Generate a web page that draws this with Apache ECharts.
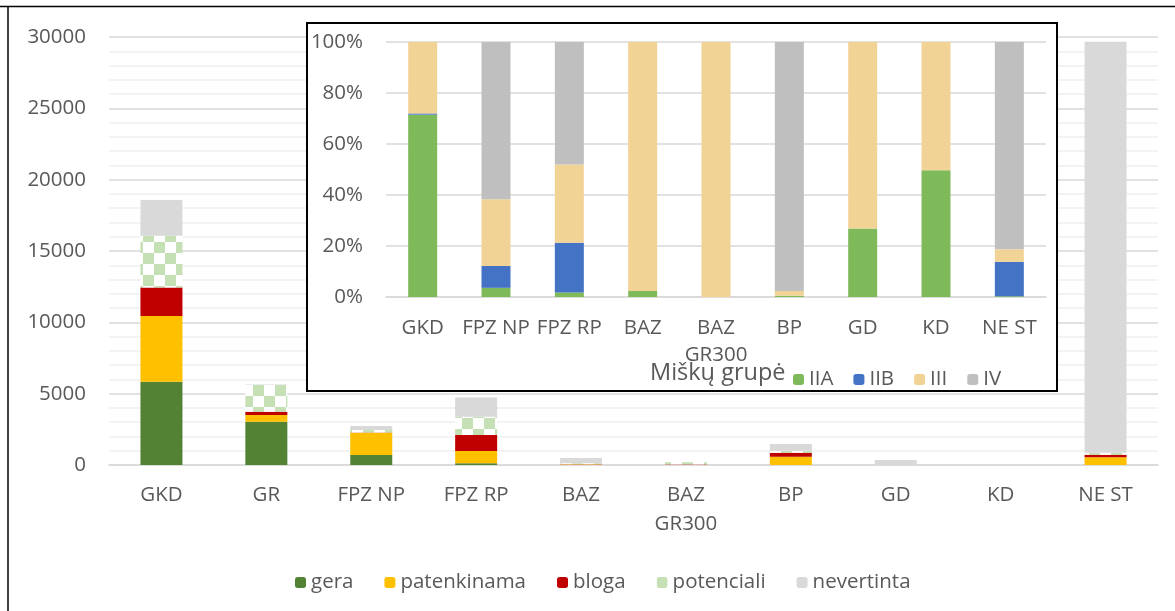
<!DOCTYPE html>
<html>
<head>
<meta charset="utf-8">
<script src="https://cdn.jsdelivr.net/npm/echarts@6/dist/echarts.min.js"></script>
<style>
  html, body { margin: 0; padding: 0; background: #fff; }
  #chart { width: 1175px; height: 611px; }
</style>
</head>
<body>
<div id="chart"></div>
<script>
// main chart (absolute areas)
const categories = ['GKD', 'GR', 'FPZ NP', 'FPZ RP', 'BAZ', 'BAZ\nGR300', 'BP', 'GD', 'KD', 'NE ST']
const gera = [5840, 3030, 700, 120, 0, 0, 0, 0, 0, 0]
const patenkinama = [4600, 470, 1560, 860, 40, 0, 580, 0, 0, 540]
const bloga = [2010, 240, 10, 1120, 20, 40, 280, 0, 0, 180]
const potenciali = [3620, 1870, 190, 1290, 60, 150, 140, 0, 0, 140]
const nevertinta = [2500, 40, 280, 1350, 370, 0, 470, 350, 0, 28800]

// inset chart (share by forest group, %)
const insetCategories = ['GKD', 'FPZ NP', 'FPZ RP', 'BAZ', 'BAZ\nGR300', 'BP', 'GD', 'KD', 'NE ST']
const grIIA = [71.5, 3.6, 1.8, 2.4, 0, 0.5, 26.9, 49.7, 0.3]
const grIIB = [0.5, 8.6, 19.5, 0, 0, 0, 0, 0, 13.5]
const grIII = [28, 26.1, 30.7, 97.6, 100, 1.9, 73.1, 50.3, 4.9]
const grIV = [0, 61.7, 48, 0, 0, 97.6, 0, 0, 81.3]

const font = 'Open Sans'
const fs = 20.5
const textColor = '#595959'

// checkered fill for "potenciali"
const pat = document.createElement('canvas')
pat.width = 22
pat.height = 22
const pctx = pat.getContext('2d')
pctx.fillStyle = '#ffffff'
pctx.fillRect(0, 0, 22, 22)
pctx.fillStyle = '#C5E0B4'
pctx.fillRect(0, 0, 11, 11)
pctx.fillRect(11, 11, 11, 11)

const myChart = echarts.init(document.getElementById('chart'))

function mainBar(name, data, color) {
  return {
    name: name,
    type: 'bar',
    stack: 'main',
    xAxisIndex: 0,
    yAxisIndex: 0,
    barWidth: 42,
    itemStyle: { color: color },
    data: data,
  }
}

function insetBar(name, data, color) {
  return {
    name: name,
    type: 'bar',
    stack: 'inset',
    xAxisIndex: 1,
    yAxisIndex: 1,
    barWidth: 29,
    z: 6,
    itemStyle: { color: color },
    data: data,
  }
}

const option = {
  animation: false,
  backgroundColor: '#fff',
  textStyle: { fontFamily: font },
  grid: [
    { left: 109, right: 17, top: 37, bottom: 146 },
    { left: 386, right: 129, top: 42, bottom: 314, z: 5 },
  ],
  legend: [
    {
      data: ['gera', 'patenkinama', 'bloga', 'potenciali', 'nevertinta'],
      left: 290,
      top: 567,
      itemWidth: 11,
      itemHeight: 11,
      itemGap: 31,
      textStyle: { fontSize: fs, color: textColor, fontFamily: font },
    },
    {
      data: ['IIA', 'IIB', 'III', 'IV'],
      left: 788,
      top: 364,
      itemWidth: 11,
      itemHeight: 11,
      itemGap: 20,
      z: 7,
      textStyle: { fontSize: fs, color: textColor, fontFamily: font },
    },
  ],
  graphic: [
    // outer frame lines
    {
      type: 'line',
      shape: { x1: 0, y1: 6.5, x2: 1175, y2: 6.5 },
      style: { stroke: '#000', lineWidth: 1.5 },
    },
    {
      type: 'line',
      shape: { x1: 8, y1: 6.5, x2: 8, y2: 611 },
      style: { stroke: '#000', lineWidth: 1.5 },
    },
    // inset box
    {
      type: 'rect',
      z: 3,
      shape: { x: 307, y: 23, width: 750, height: 368 },
      style: { fill: '#fff', stroke: '#000', lineWidth: 2 },
    },
    {
      type: 'text',
      z: 7,
      left: 650,
      top: 361,
      style: { text: 'Miškų grupė', fontSize: 23.5, fontFamily: font, fill: textColor },
    },
  ],
  xAxis: [
    {
      type: 'category',
      gridIndex: 0,
      data: categories,
      axisTick: { show: false },
      axisLine: { lineStyle: { color: '#D9D9D9', width: 1.5 } },
      axisLabel: {
        interval: 0,
        margin: 16,
        fontSize: fs,
        lineHeight: 29,
        color: textColor,
        fontFamily: font,
      },
    },
    {
      type: 'category',
      gridIndex: 1,
      z: 5,
      data: insetCategories,
      axisTick: { show: false },
      axisLine: { lineStyle: { color: '#D9D9D9', width: 1.5 } },
      axisLabel: {
        interval: 0,
        margin: 18,
        fontSize: fs,
        lineHeight: 27,
        color: textColor,
        fontFamily: font,
      },
    },
  ],
  yAxis: [
    {
      type: 'value',
      gridIndex: 0,
      min: 0,
      max: 30000,
      interval: 5000,
      axisLine: { show: false },
      axisTick: { show: false },
      axisLabel: {
        margin: 23,
        fontSize: fs,
        color: textColor,
        fontFamily: font,
        formatter: v => String(v),
      },
      splitLine: { lineStyle: { color: '#D9D9D9', width: 1.5 } },
      minorTick: { show: false, splitNumber: 5 },
      minorSplitLine: { show: true, lineStyle: { color: '#F0F0F0', width: 1.5 } },
    },
    {
      type: 'value',
      gridIndex: 1,
      z: 5,
      min: 0,
      max: 100,
      interval: 20,
      axisLine: { show: false },
      axisTick: { show: false },
      axisLabel: {
        margin: 23,
        fontSize: fs,
        color: textColor,
        fontFamily: font,
        formatter: '{value}%',
      },
      splitLine: { lineStyle: { color: '#D9D9D9', width: 1.5 } },
    },
  ],
  series: [
    mainBar('gera', gera, '#548235'),
    mainBar('patenkinama', patenkinama, '#FFC000'),
    mainBar('bloga', bloga, '#C00000'),
    mainBar('potenciali', potenciali, { image: pat, repeat: 'repeat' }),
    mainBar('nevertinta', nevertinta, '#D9D9D9'),
    insetBar('IIA', grIIA, '#7FBA5A'),
    insetBar('IIB', grIIB, '#4472C4'),
    insetBar('III', grIII, '#F2D396'),
    insetBar('IV', grIV, '#BFBFBF'),
  ],
}

myChart.setOption(option)
</script>
</body>
</html>
